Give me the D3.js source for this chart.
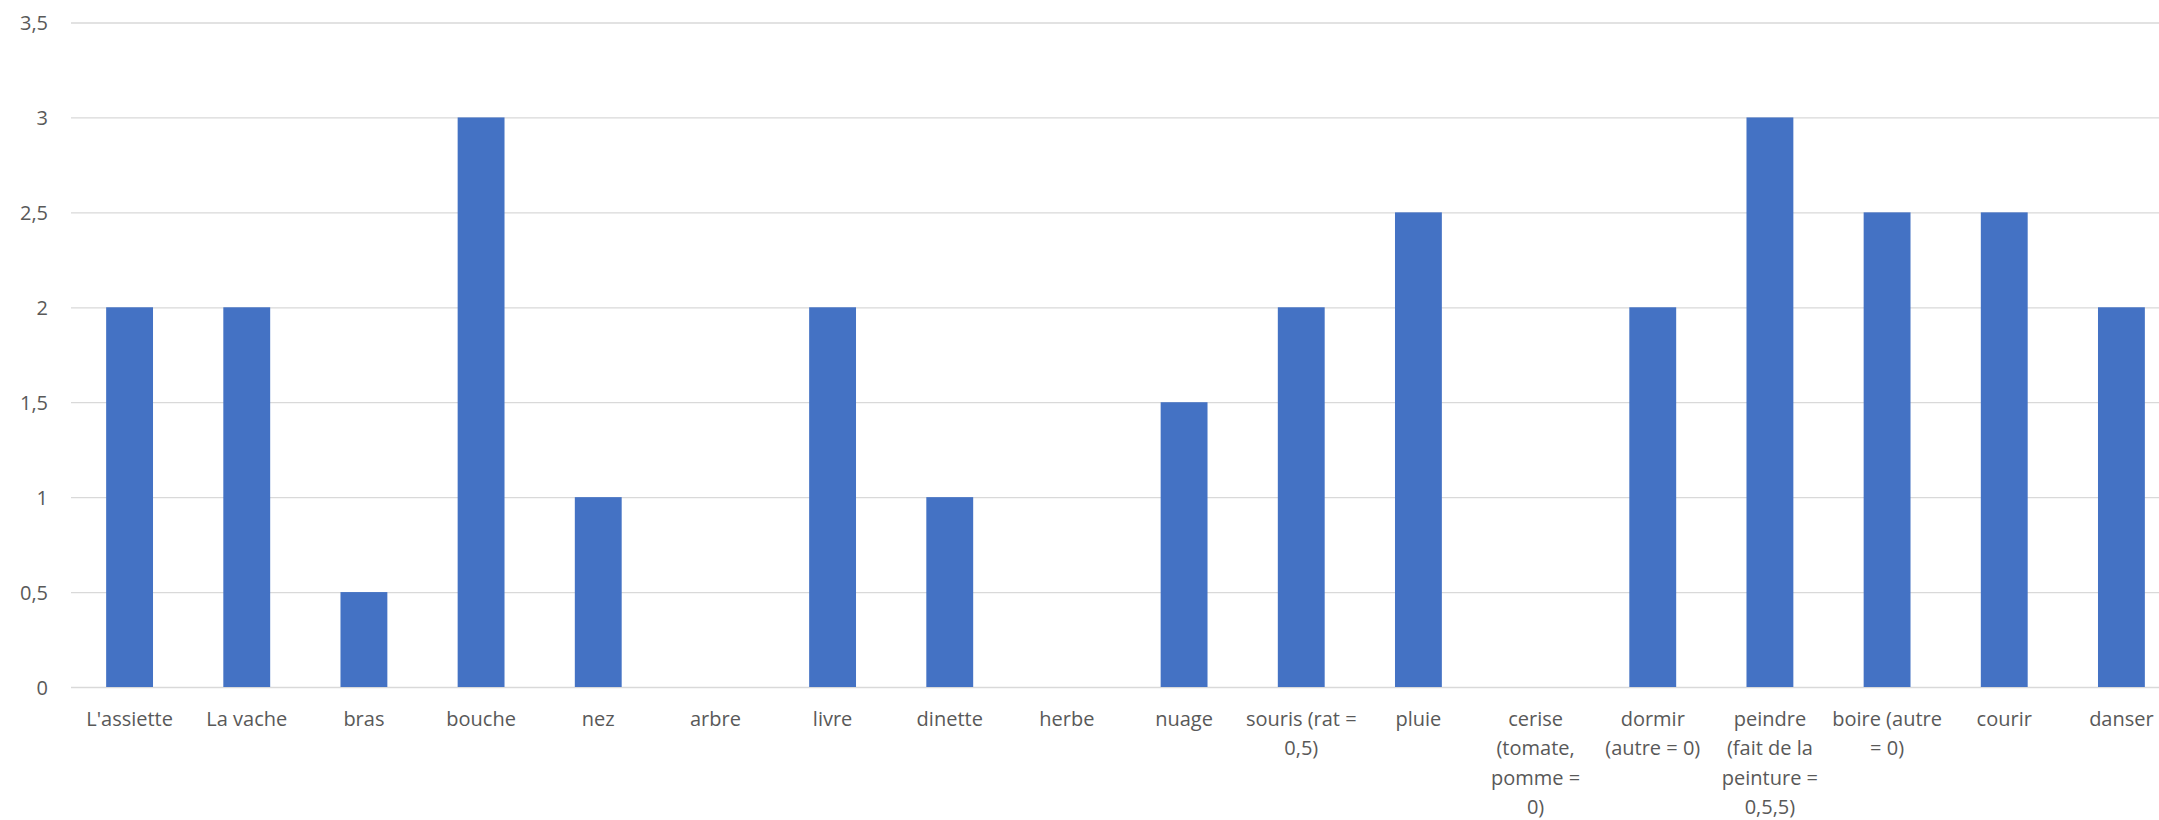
<!DOCTYPE html>
<html>
<head>
<meta charset="utf-8">
<script src="https://cdn.jsdelivr.net/npm/d3@7"></script>
<style>
  body { margin: 0; background: #fff; }
  svg { display: block; }
  text { font-family: "Open Sans", sans-serif; fill: #595959; }
</style>
</head>
<body>
<svg id="chart" width="2159" height="820"></svg>
<script>
// data {{{ //
// label lines are split where the original chart wraps them
const categories = [
  "L'assiette", "La vache", "bras", "bouche", "nez", "arbre", "livre",
  "dinette", "herbe", "nuage", "souris (rat =\n0,5)", "pluie",
  "cerise\n(tomate,\npomme =\n0)", "dormir\n(autre = 0)",
  "peindre\n(fait de la\npeinture =\n0,5,5)", "boire (autre\n= 0)",
  "courir", "danser"
];
const values = [2, 2, 0.5, 3, 1, 0, 2, 1, 0, 1.5, 2, 2.5, 0, 2, 3, 2.5, 2.5, 2];
const yTicks = [0, 0.5, 1, 1.5, 2, 2.5, 3, 3.5];
// }}} data //

const svg = d3.select("#chart");
const W = 2159;

// scales {{{ //
const x = d3.scaleBand()
  .domain(d3.range(categories.length))
  .range([71, 2180])   // the source chart is cut at the right edge
  .paddingInner(0.6)
  .paddingOuter(0.3);

const y = d3.scaleLinear()
  .domain([0, 3.5])
  .range([687, 22.5]);
// }}} scales //

// gridlines + y labels {{{ //
const yAxis = svg.append("g")
  .call(d3.axisLeft(y)
    .tickValues(yTicks)
    .tickSize(0)
    .tickPadding(0)
    .tickFormat(d => String(d).replace(".", ",")));
yAxis.select(".domain").remove();
yAxis.selectAll(".tick text")
  .attr("x", 48)
  .attr("dy", "0.35em")
  .attr("text-anchor", "end")
  .style("font-size", "20px")
  .style("font-family", "'Open Sans', sans-serif")
  .attr("fill", "#595959");
yAxis.selectAll(".tick line").remove();
yAxis.selectAll(".tick").append("line")
  .attr("x1", 71)
  .attr("x2", W)
  .attr("stroke", "#d9d9d9")
  .attr("stroke-width", 1.3);
// }}} gridlines + y labels //

// bars {{{ //
svg.append("g")
  .selectAll("rect")
  .data(values)
  .enter().append("rect")
  .attr("x", (d, i) => x(i))
  .attr("y", d => y(d))
  .attr("width", x.bandwidth())
  .attr("height", d => y(0) - y(d))
  .attr("fill", "#4472c4");
// }}} bars //

// x labels {{{ //
const step = x.step();
const labels = svg.append("g")
  .selectAll("text")
  .data(categories)
  .enter().append("text")
  .attr("x", (d, i) => x(i) + x.bandwidth() / 2)
  .attr("y", 726)
  .attr("text-anchor", "middle")
  .style("font-size", "20px");
labels.each(function(d) {
  const t = d3.select(this);
  const cx = t.attr("x");
  d.split("\n").forEach((line, k) => {
    t.append("tspan")
      .attr("x", cx)
      .attr("y", 726 + k * 29.3)
      .text(line);
  });
});
// }}} x labels //
</script>
</body>
</html>
